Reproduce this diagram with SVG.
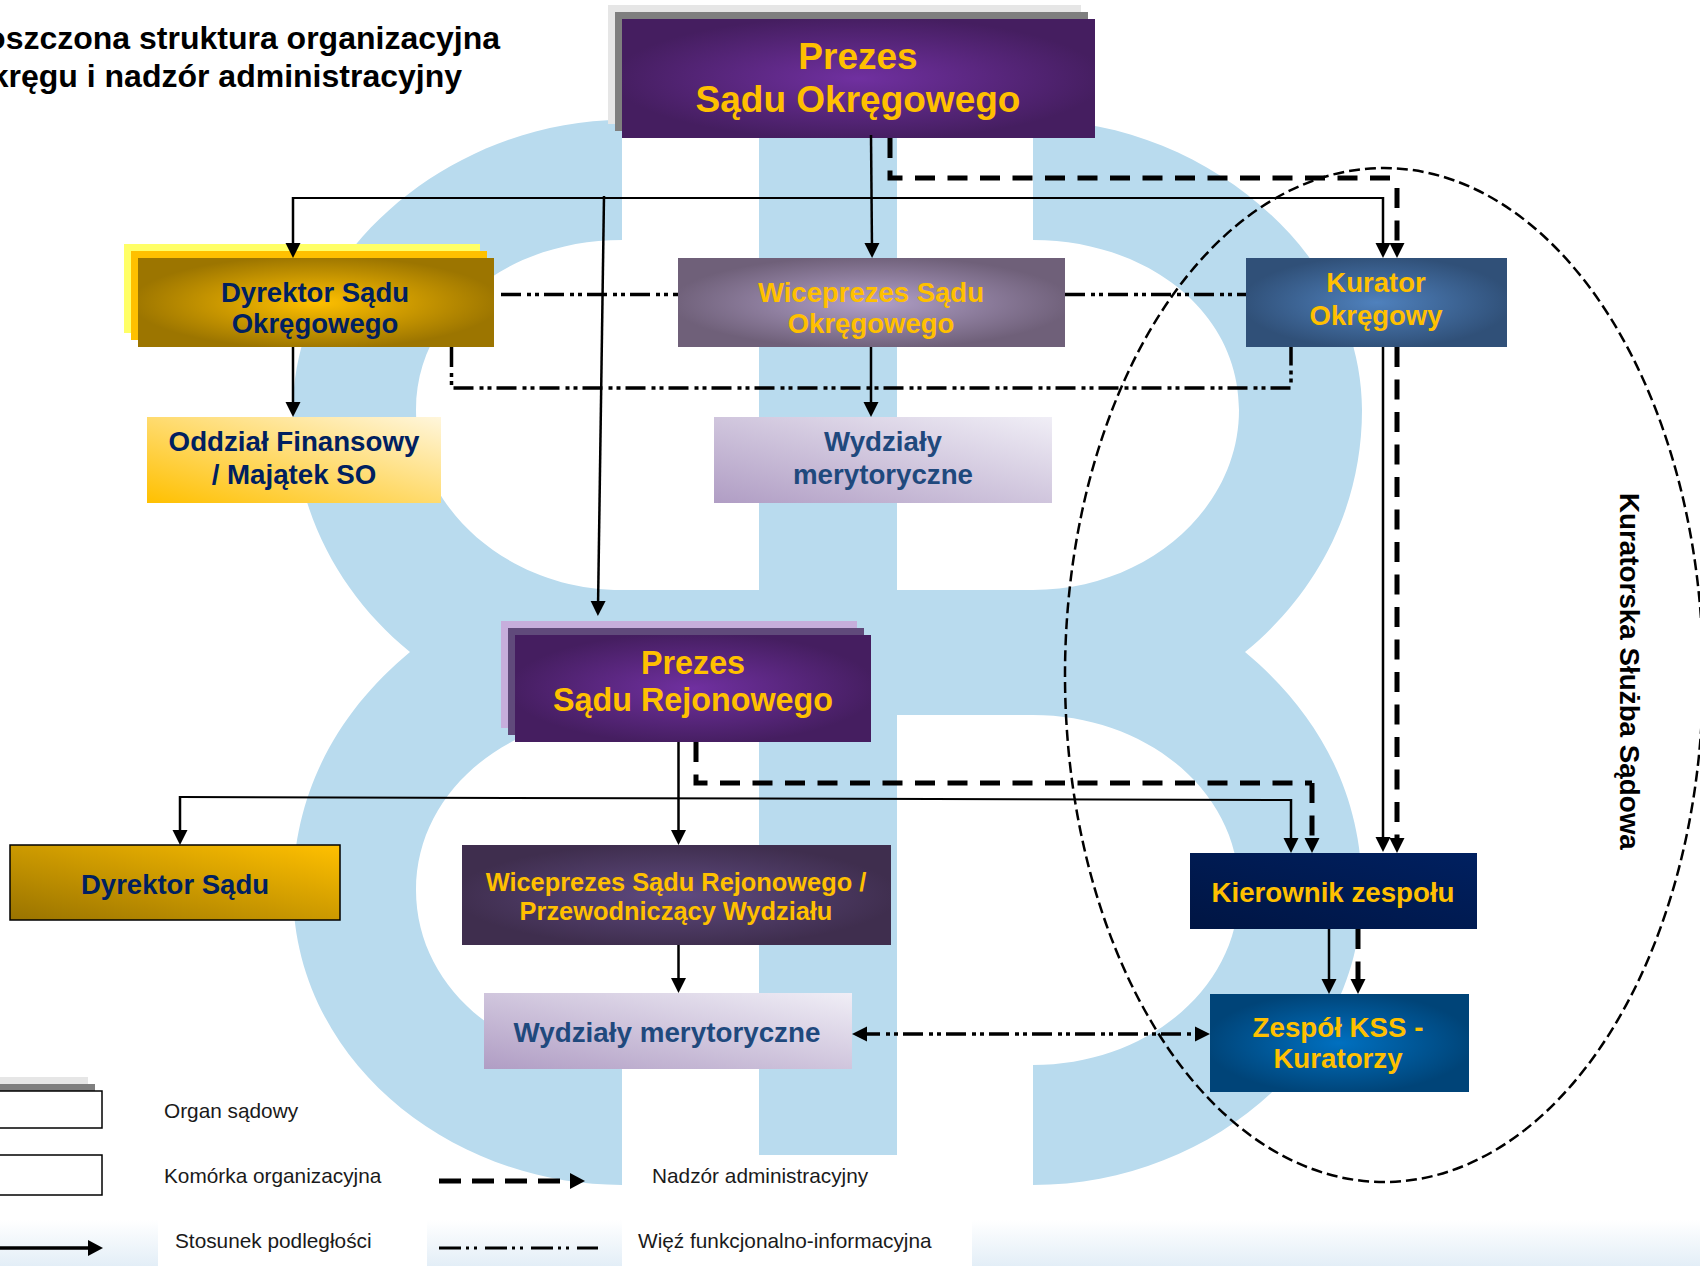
<svg xmlns="http://www.w3.org/2000/svg" width="1700" height="1266" viewBox="0 0 1700 1266">
<style>
text{font-family:"Liberation Sans",Arial,sans-serif}
.b{font-weight:700;text-anchor:middle}
.g{fill:#ffc000}.n{fill:#002060}.w{fill:#1f497d}
.t{font-weight:700;font-size:32px;fill:#000;text-anchor:end}
.l{font-size:20.800px;fill:#1a1a1a}
.s{fill:none;stroke:#000;stroke-width:2.500}
.f{fill:none;stroke:#000;stroke-width:2}
.h{fill:none;stroke:#000;stroke-width:5;stroke-dasharray:20 12.5}
.d{fill:none;stroke:#000;stroke-width:3.500;stroke-dasharray:20 6 4 4 4 5}
.a{marker-end:url(#ah)}
</style>
<defs>
<marker id="ah" markerUnits="userSpaceOnUse" markerWidth="16" markerHeight="16" refX="7" refY="8" orient="auto"><path d="M0,0.5L15,8L0,15.5Z" fill="#000"/></marker>
<marker id="ab" markerUnits="userSpaceOnUse" markerWidth="16" markerHeight="16" refX="7" refY="8" orient="auto-start-reverse"><path d="M0,0.5L15,8L0,15.5Z" fill="#000"/></marker>
<radialGradient id="gP" cx=".5" cy=".5" r=".52"><stop offset="0" stop-color="#7030a0"/><stop offset="1" stop-color="#451e60"/></radialGradient>
<radialGradient id="gD" cx=".5" cy=".5" r=".52"><stop offset="0" stop-color="#ffc000"/><stop offset="1" stop-color="#9c7500"/></radialGradient>
<radialGradient id="gW" cx=".5" cy=".5" r=".52"><stop offset="0" stop-color="#b1a0c8"/><stop offset="1" stop-color="#6f6079"/></radialGradient>
<radialGradient id="gK" cx=".5" cy=".5" r=".52"><stop offset="0" stop-color="#4f81bd"/><stop offset="1" stop-color="#305078"/></radialGradient>
<radialGradient id="gV" cx=".5" cy=".5" r=".52"><stop offset="0" stop-color="#5f4a80"/><stop offset="1" stop-color="#3f2e4e"/></radialGradient>
<radialGradient id="gZ" cx=".5" cy=".5" r=".52"><stop offset="0" stop-color="#0070c0"/><stop offset="1" stop-color="#004478"/></radialGradient>
<linearGradient id="gKi" x1="0" y1="1" x2="1" y2="0"><stop offset="0" stop-color="#001543"/><stop offset="1" stop-color="#002060"/></linearGradient>
<linearGradient id="gM" x1="0" y1="1" x2="1" y2="0"><stop offset="0" stop-color="#b09dc4"/><stop offset="1" stop-color="#f0eef6"/></linearGradient>
<linearGradient id="gO" x1="0" y1="1" x2="1" y2="0"><stop offset="0" stop-color="#ffc000"/><stop offset="1" stop-color="#fff6dc"/></linearGradient>
<linearGradient id="gS" x1="0" y1="1" x2="1" y2="0"><stop offset="0" stop-color="#997300"/><stop offset="1" stop-color="#ffc000"/></linearGradient>
<linearGradient id="gB" x1="0" y1="0" x2="0" y2="1"><stop offset="0" stop-color="#ffffff"/><stop offset="1" stop-color="#e3eef7"/></linearGradient>
</defs>

<g id="background">
<rect x="0" y="1220" width="1700" height="46" fill="url(#gB)"/>
<rect x="158" y="1220" width="269" height="46" fill="#fff"/>
<rect x="622" y="1220" width="350" height="46" fill="#fff"/>
<path fill="#b9dbee" fill-rule="evenodd" d="M622,120C455,120 293,250 293,410C293,510 340,595 410,652C340,710 293,790 293,890C293,1060 450,1185 622,1185L622,1065C510,1065 416,990 416,890C416,790 510,715 622,715L759,715L759,1155L897,1155L897,715L1033,715C1145,715 1239,790 1239,890C1239,990 1145,1065 1033,1065L1033,1185C1205,1185 1362,1060 1362,890C1362,790 1315,710 1245,652C1315,595 1362,510 1362,410C1362,250 1200,120 1033,120L1033,240C1145,240 1239,310 1239,410C1239,510 1145,590 1033,590L897,590L897,120L759,120L759,590L622,590C510,590 416,510 416,410C416,310 510,240 622,240Z"/>
</g>

<g id="title">
<text class="t" x="500" y="49">oszczona struktura organizacyjna</text>
<text class="t" x="462" y="87">kręgu i nadzór administracyjny</text>
</g>

<g id="prezes-so">
<rect x="608" y="5" width="473" height="119" fill="#e6e6e6"/>
<rect x="615" y="12" width="473" height="119" fill="#7f7f7f"/>
<rect x="622" y="19" width="473" height="119" fill="url(#gP)"/>
<text class="b g" font-size="37" x="858" y="69">Prezes</text>
<text class="b g" font-size="37" x="858" y="112">Sądu Okręgowego</text>
</g>
<g id="dyrektor-so">
<rect x="124" y="244" width="356" height="89" fill="#ffff66"/>
<rect x="131" y="251" width="356" height="89" fill="#ffc000"/>
<rect x="138" y="258" width="356" height="89" fill="url(#gD)"/>
<text class="b n" font-size="27.500" x="315" y="302">Dyrektor Sądu</text>
<text class="b n" font-size="27.500" x="315" y="333">Okręgowego</text>
</g>
<g id="wiceprezes-so">
<rect x="678" y="258" width="387" height="89" fill="url(#gW)"/>
<text class="b g" font-size="27.500" x="871" y="302">Wiceprezes Sądu</text>
<text class="b g" font-size="27.500" x="871" y="333">Okręgowego</text>
</g>
<g id="kurator">
<rect x="1246" y="258" width="261" height="89" fill="url(#gK)"/>
<text class="b g" font-size="27.500" x="1376" y="292">Kurator</text>
<text class="b g" font-size="27.500" x="1376" y="325">Okręgowy</text>
</g>
<g id="oddzial">
<rect x="147" y="417" width="294" height="86" fill="url(#gO)"/>
<text class="b n" font-size="27.700" x="294" y="451">Oddział Finansowy</text>
<text class="b n" font-size="27.700" x="294" y="484">/ Majątek SO</text>
</g>
<g id="wydzialy-so">
<rect x="714" y="417" width="338" height="86" fill="url(#gM)"/>
<text class="b w" font-size="27.700" x="883" y="451">Wydziały</text>
<text class="b w" font-size="27.700" x="883" y="484">merytoryczne</text>
</g>
<g id="prezes-sr">
<rect x="501" y="621" width="356" height="107" fill="#c6aedc"/>
<rect x="508" y="628" width="356" height="107" fill="#604a7b"/>
<rect x="515" y="635" width="356" height="107" fill="url(#gP)"/>
<text class="b g" font-size="32.300" x="693" y="674">Prezes</text>
<text class="b g" font-size="32.300" x="693" y="711">Sądu Rejonowego</text>
</g>
<g id="dyrektor-sadu">
<rect x="10" y="845" width="330" height="75" fill="url(#gS)" stroke="#000" stroke-width="1.500"/>
<text class="b n" font-size="27.500" x="175" y="894">Dyrektor Sądu</text>
</g>
<g id="wiceprezes-sr">
<rect x="462" y="845" width="429" height="100" fill="url(#gV)"/>
<text class="b g" font-size="25.400" x="676" y="891">Wiceprezes Sądu Rejonowego /</text>
<text class="b g" font-size="25.400" x="676" y="920">Przewodniczący Wydziału</text>
</g>
<g id="wydzialy-sr">
<rect x="484" y="993" width="368" height="76" fill="url(#gM)"/>
<text class="b w" font-size="27.800" x="667" y="1042">Wydziały merytoryczne</text>
</g>
<g id="kierownik">
<rect x="1190" y="853" width="287" height="76" fill="url(#gKi)"/>
<text class="b g" font-size="27.700" x="1333" y="902">Kierownik zespołu</text>
</g>
<g id="zespol">
<rect x="1210" y="994" width="259" height="98" fill="url(#gZ)"/>
<text class="b g" font-size="27.700" x="1338" y="1037">Zespół KSS -</text>
<text class="b g" font-size="27.700" x="1338" y="1068">Kuratorzy</text>
</g>

<g id="connectors">
<path class="f" d="M293,198H1383"/>
<path class="s a" d="M293,197V250"/>
<path class="s a" d="M1383,197V250"/>
<path class="s a" d="M871,135L872,250"/>
<path class="s a" d="M604,196L598,608"/>
<path class="s a" d="M293,347V409"/>
<path class="s a" d="M871,347V409"/>
<path class="s a" d="M678.500,742V837"/>
<path class="s a" d="M678.500,945V985"/>
<path class="f" d="M180,797L1291,800"/>
<path class="s a" d="M180,796V837"/>
<path class="s a" d="M1291,799V845"/>
<path class="s a" d="M1383,347V844"/>
<path class="s a" d="M1329,929V986"/>
<path class="h" d="M890,138V178H1395"/>
<path class="h a" d="M1397,188V250"/>
<path class="h a" d="M1397,347V845"/>
<path class="h" d="M696,742V783H1312"/>
<path class="h a" d="M1312,783V845"/>
<path class="h a" d="M1358,929V986"/>
<path class="d" d="M501,294.500H678"/>
<path class="d" d="M1065,294.500H1246"/>
<path class="d" d="M451.500,347V388H1291V347"/>
<path class="d" marker-start="url(#ab)" marker-end="url(#ab)" d="M860,1034H1202"/>
</g>

<g id="kss-zone">
<ellipse cx="1384" cy="675" rx="319" ry="507" fill="none" stroke="#000" stroke-width="2.500" stroke-dasharray="11 5"/>
<text font-weight="700" font-size="27.800" fill="#000" transform="translate(1620,493) rotate(90)">Kuratorska Służba Sądowa</text>
</g>

<g id="legend">
<rect x="-20" y="1077" width="108" height="40" fill="#e6e6e6"/>
<rect x="-20" y="1084" width="115" height="40" fill="#7f7f7f"/>
<rect x="-20" y="1091" width="122" height="37" fill="#fff" stroke="#000" stroke-width="1.500"/>
<rect x="-20" y="1155" width="122" height="40" fill="#fff" stroke="#000" stroke-width="1.500"/>
<text class="l" x="164" y="1118">Organ sądowy</text>
<text class="l" x="164" y="1183">Komórka organizacyjna</text>
<text class="l" x="175" y="1248">Stosunek podległości</text>
<text class="l" x="652" y="1183">Nadzór administracyjny</text>
<text class="l" x="638" y="1248">Więź funkcjonalno-informacyjna</text>
<path fill="none" stroke="#000" stroke-width="5" stroke-dasharray="22 11" d="M439,1181H565"/>
<path d="M570,1173L585,1181L570,1189Z" fill="#000"/>
<path fill="none" stroke="#000" stroke-width="3.500" d="M-5,1248H92"/>
<path d="M88,1240L103,1248L88,1256Z" fill="#000"/>
<path fill="none" stroke="#000" stroke-width="3" stroke-dasharray="22 5 3 5 3 8" d="M439,1248H598"/>
</g>
</svg>
